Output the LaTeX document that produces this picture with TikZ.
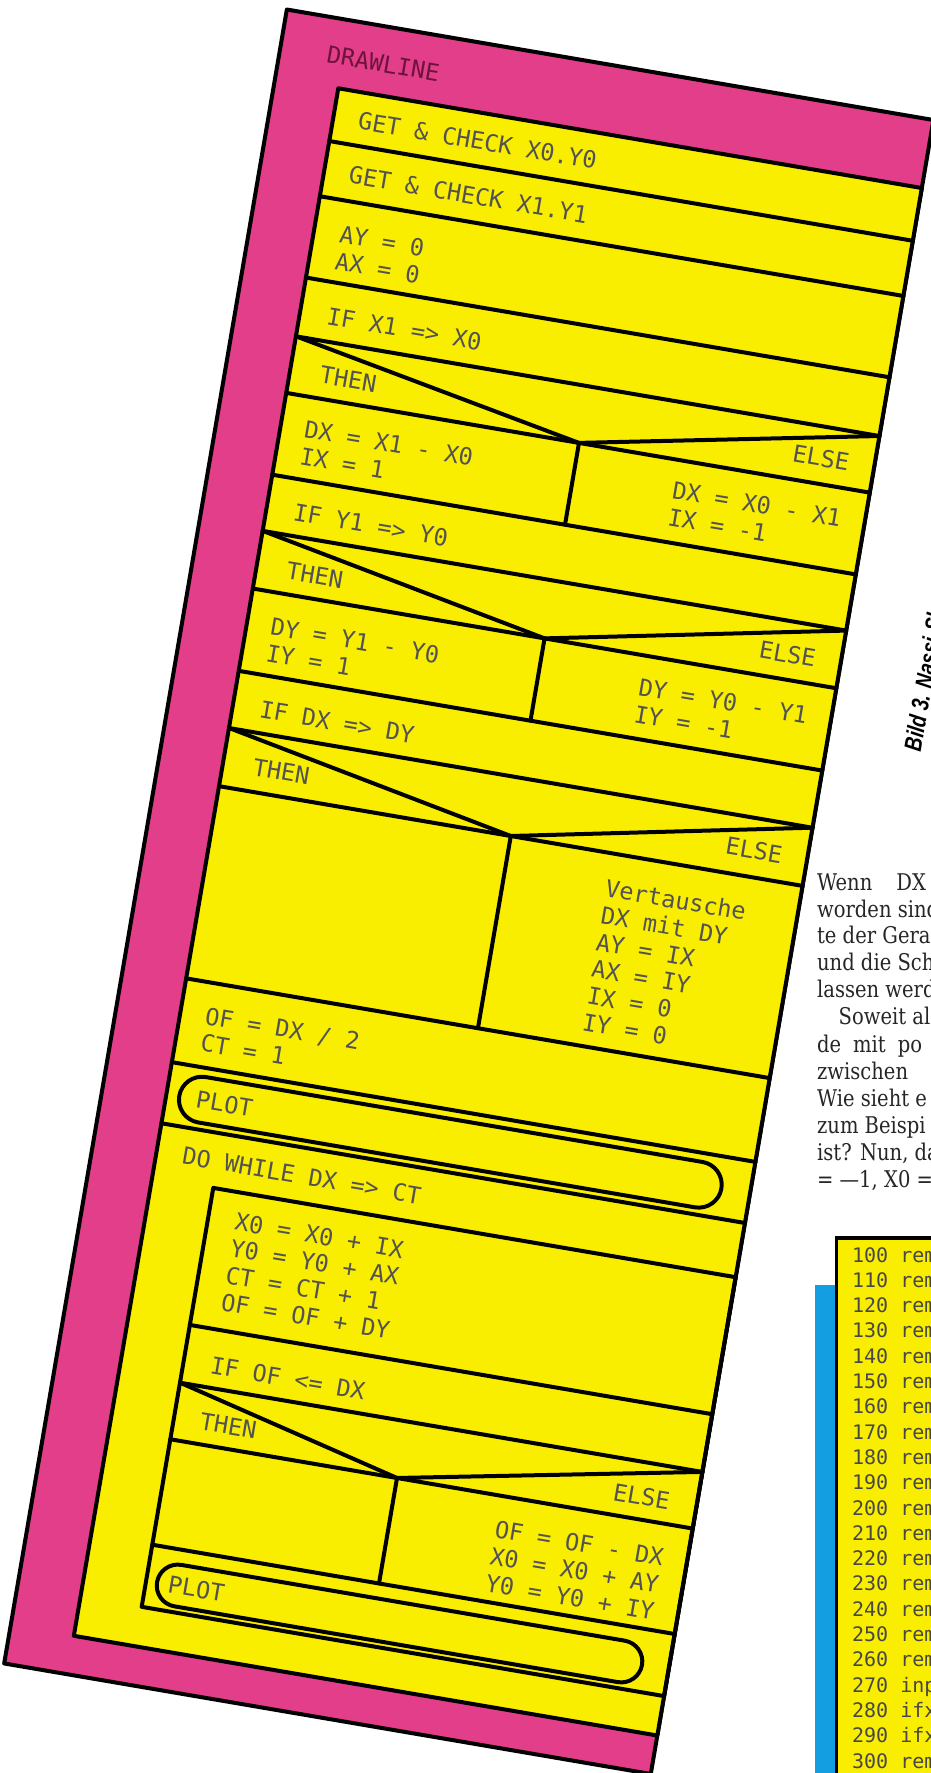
\documentclass[tikz,border=0pt]{standalone}
\usepackage{fontspec}
\newfontfamily\plotfont{DejaVu Sans Mono}
\newfontfamily\bodyfont[FakeStretch=0.85]{DejaVu Serif}
\newfontfamily\capfont[FakeStretch=0.78]{Liberation Sans}
\usetikzlibrary{positioning}
\definecolor{nsmagenta}{RGB}{226,62,138}
\definecolor{nsyellow}{RGB}{250,238,0}
\definecolor{nspurple}{RGB}{110,20,60}
\definecolor{listblue}{RGB}{18,158,224}
\tikzset{
  nsline/.style={line width=2pt, line join=round, line cap=round},
  nstext/.style={font=\plotfont\fontsize{11.8}{13.6}\selectfont, text=black!68, inner sep=0pt, align=left, anchor=west},
  bodytext/.style={font=\bodyfont\fontsize{11.5}{13.5}\selectfont, text=black!85, inner sep=0pt, anchor=base west},
  codetext/.style={font=\plotfont\fontsize{10}{12}\selectfont, text=black!72, inner sep=0pt, anchor=base west}
}

\begin{document}
\begin{tikzpicture}[x=0.5pt,y=-0.5pt]
\useasboundingbox (0,0) rectangle (931,1773);
\clip (0,0) rectangle (931,1773);

% Struktogramm
\begin{scope}[shift={(338.3,88.3)},rotate=-9.7,transform shape]
\draw[nsline,fill=nsmagenta] (-64,-69) rectangle (592,1609);
\draw[nsline,fill=nsyellow] (0,0) rectangle (592,1570);
\node[nstext,text=nspurple] (title) at (-17,-32) {DRAWLINE};

\foreach \row in {53.5,109.5,192,251.6,309,392,449,507.5,591,649,708,903,988,1050}
  \draw[nsline] (0,\row) -- (592,\row);

% Bedingungen
\coordinate (if1a) at (0,251.6);
\coordinate (if1p) at (297,309);
\coordinate (if1b) at (592,251.6);
\coordinate (if1c) at (297,392);
\coordinate (if2a) at (0,449);
\coordinate (if2p) at (296,507.5);
\coordinate (if2b) at (592,449);
\coordinate (if2c) at (296,591);
\coordinate (if3a) at (0,649);
\coordinate (if3p) at (296,708);
\coordinate (if3b) at (592,649);
\coordinate (if3c) at (296,903);
\draw[nsline] (if1a) -- (if1p) -- (if1b);
\draw[nsline] (if1p) -- (if1c);
\draw[nsline] (if2a) -- (if2p) -- (if2b);
\draw[nsline] (if2p) -- (if2c);
\draw[nsline] (if3a) -- (if3p) -- (if3b);
\draw[nsline] (if3p) -- (if3c);

% Schleife
\draw[nsline] (62,1105) rectangle (592,1530);
\foreach \row in {1244,1302.6,1360,1467}
  \draw[nsline] (62,\row) -- (592,\row);
\coordinate (if4a) at (62,1302.6);
\coordinate (if4p) at (292,1360);
\coordinate (if4b) at (592,1302.6);
\coordinate (if4c) at (292,1467);
\draw[nsline] (if4a) -- (if4p) -- (if4b);
\draw[nsline] (if4p) -- (if4c);

\draw[nsline,rounded corners=11.5pt] (13,997) rectangle (563,1043);
\draw[nsline,rounded corners=10.5pt] (73,1482) rectangle (565,1524);

\node[nstext] (get0) at (25,28) {GET \& CHECK X0.Y0};
\node[nstext] (get1) at (25,83) {GET \& CHECK X1.Y1};
\node[nstext] (init) at (26,157) {AY = 0\\AX = 0};
\node[nstext] (if1) at (27,226) {IF X1 => X0};
\node[nstext] (then1) at (30,285) {THEN};
\node[nstext,anchor=east] (else1) at (567,283) {ELSE};
\node[nstext] (thenx) at (24,355) {DX = X1 - X0\\IX = 1};
\node[nstext] (elsex) at (397,353) {DX = X0 - X1\\IX = -1};
\node[nstext] (if2) at (27,425) {IF Y1 => Y0};
\node[nstext] (then2) at (30,484) {THEN};
\node[nstext,anchor=east] (else2) at (567,482) {ELSE};
\node[nstext] (theny) at (24,555) {DY = Y1 - Y0\\IY = 1};
\node[nstext] (elsey) at (397,553) {DY = Y0 - Y1\\IY = -1};
\node[nstext] (if3) at (27,625) {IF DX => DY};
\node[nstext] (then3) at (30,683) {THEN};
\node[nstext,anchor=east] (else3) at (567,681) {ELSE};
\node[nstext] (swap) at (398,811) {Vertausche\\DX mit DY\\AY = IX\\AX = IY\\IX = 0\\IY = 0};
\node[nstext] (half) at (25,950) {OF = DX / 2\\CT = 1};
\node[nstext] (plot1) at (30,1020) {PLOT};
\node[nstext] (loop) at (26,1078) {DO WHILE DX => CT};
\node[nstext] (step) at (89,1175) {X0 = X0 + IX\\Y0 = Y0 + AX\\CT = CT + 1\\OF = OF + DY};
\node[nstext] (if4) at (89,1280) {IF OF <= DX};
\node[nstext] (then4) at (88,1337) {THEN};
\node[nstext,anchor=east] (else4) at (565,1337) {ELSE};
\node[nstext] (corr) at (397,1421) {OF = OF - DX\\X0 = X0 + AY\\Y0 = Y0 + IY};
\node[nstext] (plot2) at (84,1503) {PLOT};

% Bildunterschrift, mit dem Blatt gedreht
\node[font=\capfont\bfseries\itshape\fontsize{12.2}{14}\selectfont, rotate=90, anchor=base west, inner sep=0pt] (caption) at (686,557) {Bild 3. Nassi-Shneiderman};
\end{scope}

% Text
\node[bodytext] (t1) at (816.7,890) {Wenn\hspace{12pt}DX};
\node[bodytext] (t2) at (816.7,917) {worden sind};
\node[bodytext] (t3) at (816.7,943) {te der Gera};
\node[bodytext] (t4) at (816.7,970) {und die Sch};
\node[bodytext] (t5) at (816.7,997) {lassen werd};
\node[bodytext] (t6) at (838.3,1024) {Soweit al};
\node[bodytext] (t7) at (816.7,1052) {de\hspace{6pt}mit\hspace{6pt}po};
\node[bodytext] (t8) at (816.7,1079) {zwischen};
\node[bodytext] (t9) at (816.7,1106) {Wie sieht e};
\node[bodytext] (t10) at (816.7,1133) {zum Beispi};
\node[bodytext] (t11) at (816.7,1160) {ist? Nun, da};
\node[bodytext] (t12) at (816.7,1187) {= —1, X0 =};

% Listing
\fill[listblue] (815,1285) rectangle (940,1790);
\draw[line width=1.6pt,fill=nsyellow] (836.7,1238) rectangle (950,1800);
\foreach \n [count=\i from 0] in {100,110,...,260}
  \node[codetext] (l\n) at (851.7,{1262+25.3*\i}) {\n\ rem};
\node[codetext] (l270) at (851.7,1692.1) {270 inp};
\node[codetext] (l280) at (851.7,1717.4) {280 ifx};
\node[codetext] (l290) at (851.7,1742.7) {290 ifx};
\node[codetext] (l300) at (851.7,1768) {300 rem};
\end{tikzpicture}
\end{document}
